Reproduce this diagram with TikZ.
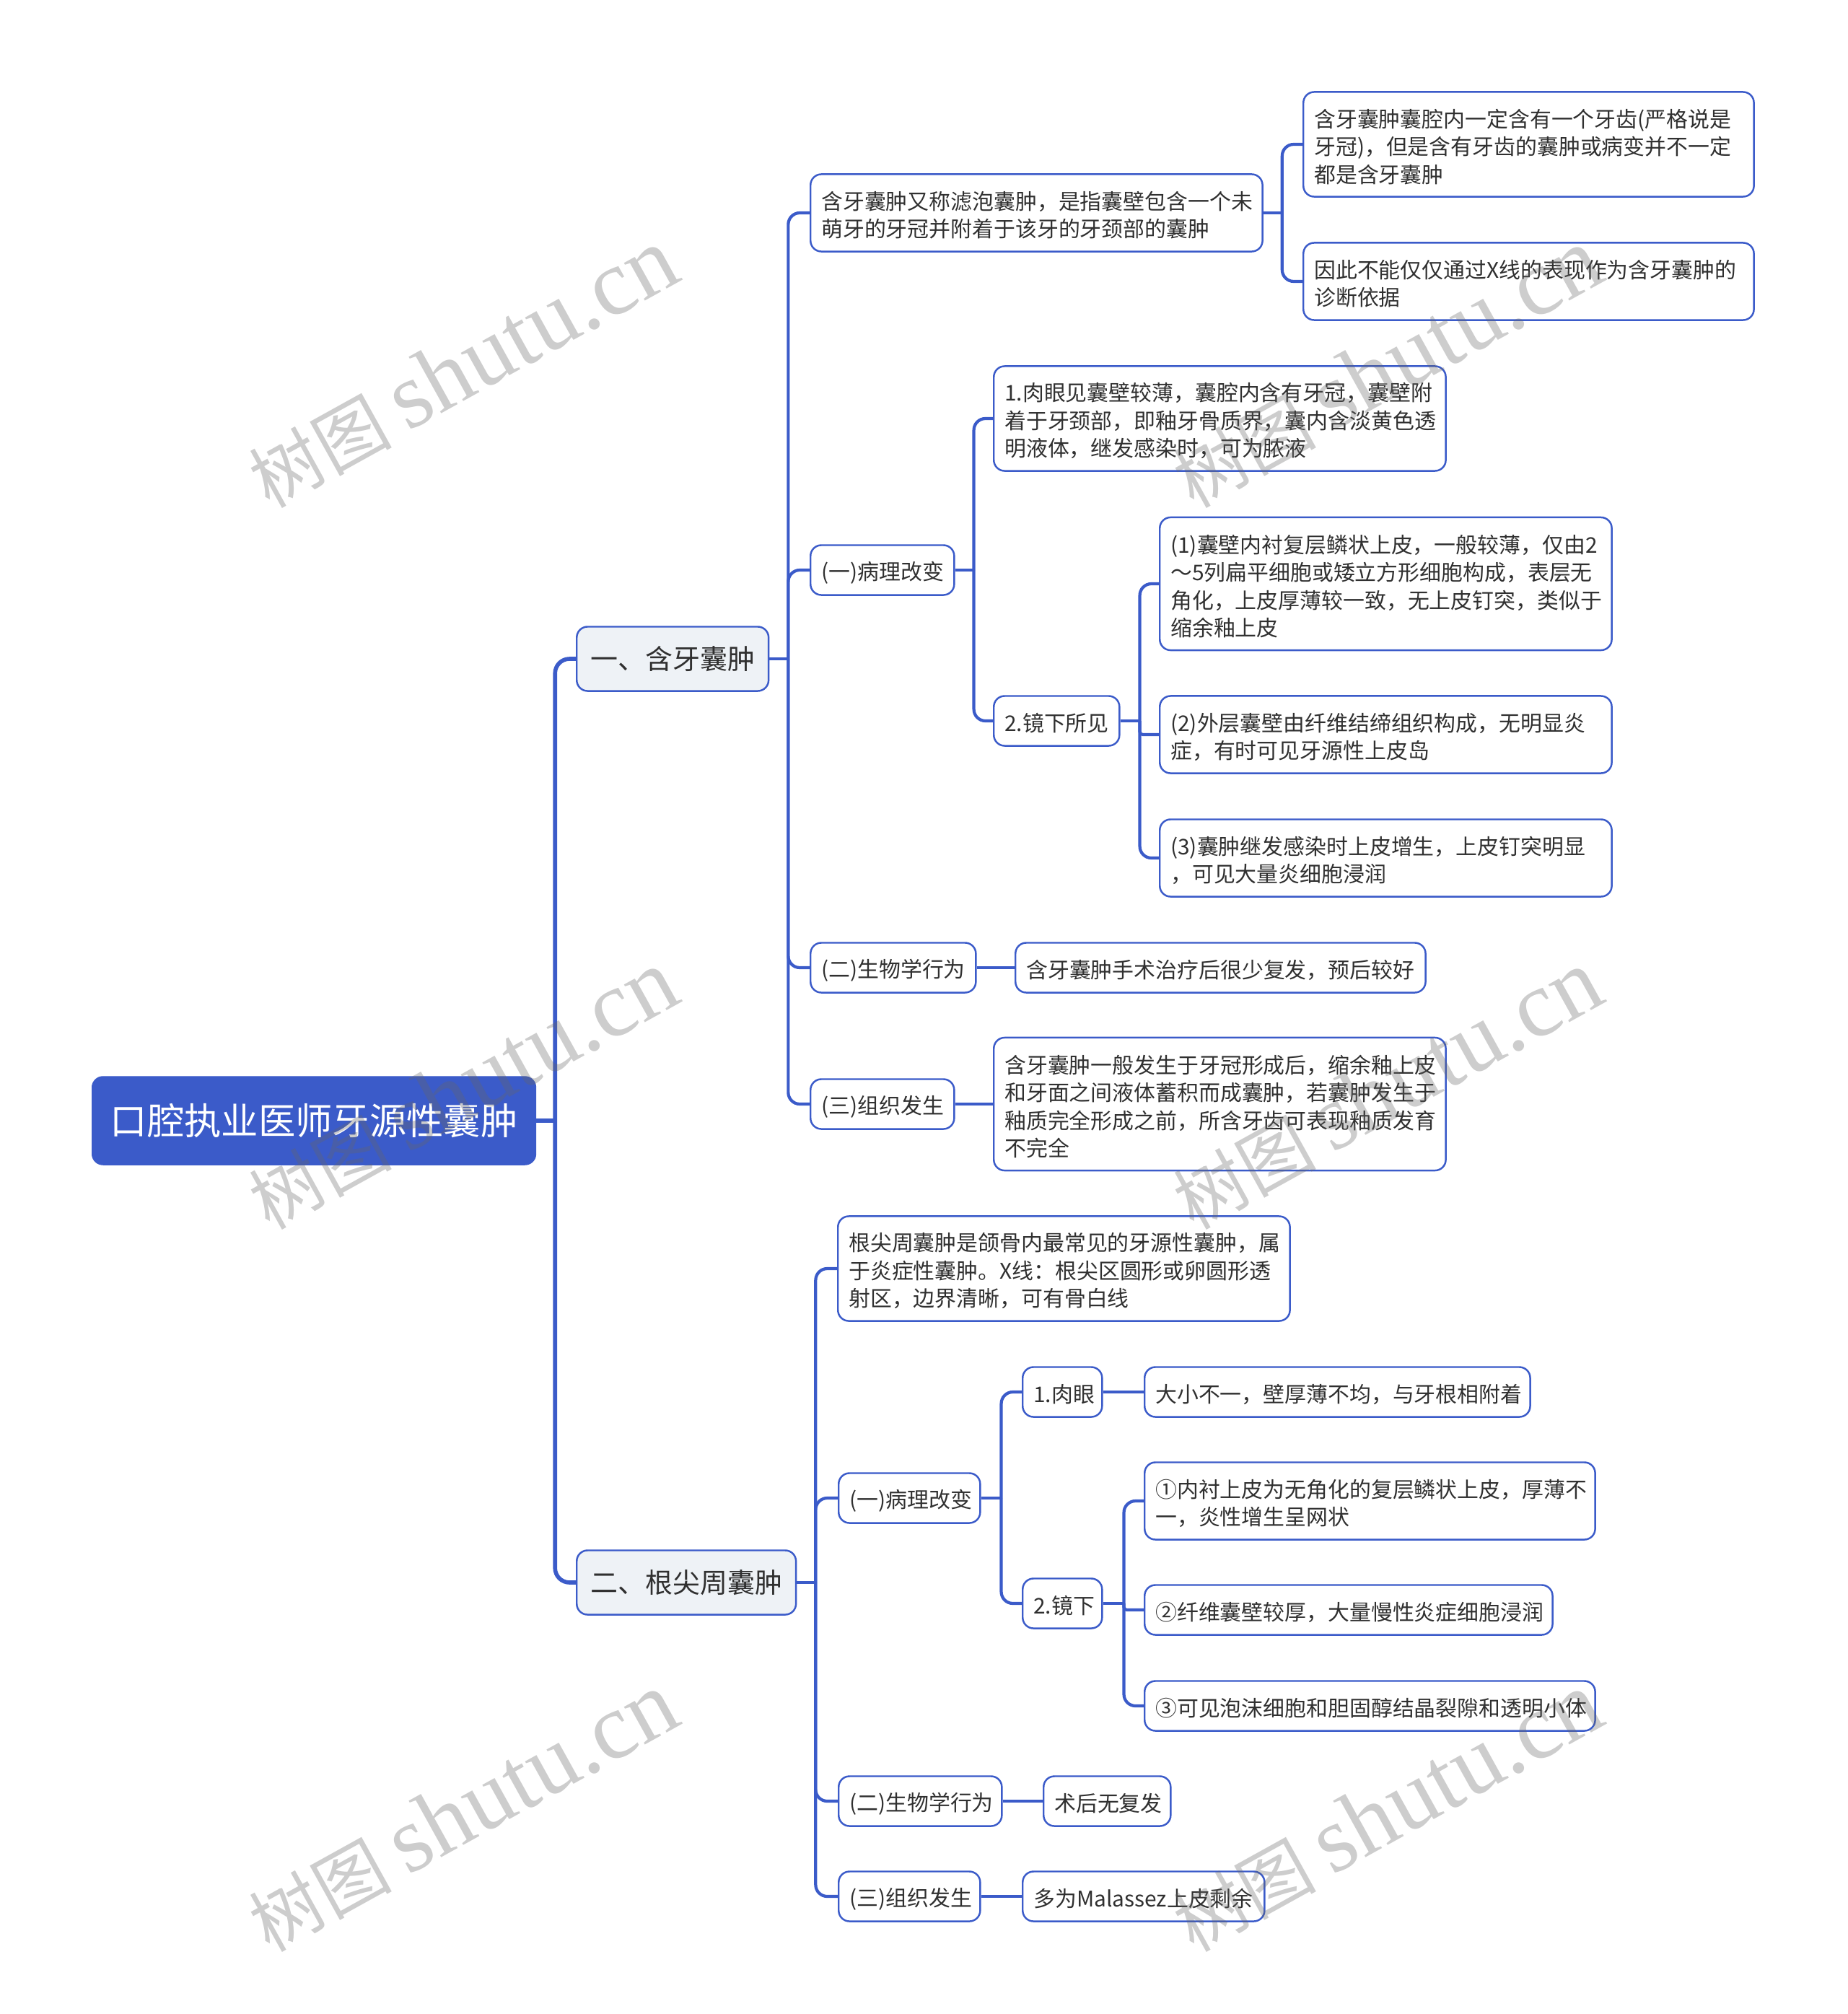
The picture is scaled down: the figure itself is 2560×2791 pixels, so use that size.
\documentclass[tikz,border=0pt]{standalone}
\usepackage{fontspec}
\usepackage{tikz}
\setmainfont{Noto Sans CJK SC}
\newfontfamily\serifmark{Liberation Serif}
\definecolor{mapblue}{HTML}{3B5BC9}
\definecolor{mappale}{HTML}{EEF2F6}
\definecolor{mapink}{HTML}{303030}
\newcommand{\dou}{\char"FF0C\relax}
\newcommand{\mao}{\char"FF1A\relax}
\newcommand{\bo}{\char"FF5E\relax}

\begin{document}
\begin{tikzpicture}[x=.01cm, y=-.01cm,
  plainbox/.style={draw=mapblue, line width=.7pt, rounded corners=.15cm, anchor=west, align=left, inner xsep=.15cm, inner ysep=0pt, text=mapink},
  box/.style={plainbox, font=\fontsize{8.5}{10.95}\selectfont, execute at begin node={\rule{0pt}{.32cm}}},
  lineone/.style={minimum height=.69cm},
  linetwo/.style={minimum height=1.07cm},
  linethree/.style={minimum height=1.45cm},
  linefour/.style={minimum height=1.84cm},
  headbox/.style={plainbox, fill=mappale, inner xsep=.19cm, minimum height=.89cm, font=\fontsize{10.8}{13}\selectfont},
  rootbox/.style={draw=mapblue, fill=mapblue, rounded corners=.15cm, anchor=west, inner xsep=.25cm, inner ysep=0pt, minimum height=1.22cm, text=white, font=\fontsize{14.6}{18}\selectfont},
  link/.style={draw=mapblue, line width=1.2pt, rounded corners=.16cm},
  mainlink/.style={draw=mapblue, line width=1.6pt, rounded corners=.2cm},
  markbox/.style={text=black!60, opacity=.33, rotate=29, inner sep=0pt, font=\fontsize{28}{40}\selectfont}]
  \useasboundingbox (0, 0) rectangle (2560, 2791);
  \node [rootbox] (root) at (127, 1553) {口腔执业医师牙源性囊肿};
  \node [headbox] (a) at (798, 913) {一、含牙囊肿};
  \node [headbox] (b) at (798, 2193) {二、根尖周囊肿};

  \node [box, linetwo, text width=5.96cm] (a0) at (1122, 295) {含牙囊肿又称滤泡囊肿\dou 是指囊壁包含一个未\\萌牙的牙冠并附着于该牙的牙颈部的囊肿};
  \node [box, linethree, text width=5.94cm] (a01) at (1805, 200) {含牙囊肿囊腔内一定含有一个牙齿(严格说是\\牙冠)\dou 但是含有牙齿的囊肿或病变并不一定\\都是含牙囊肿};
  \node [box, linetwo, text width=5.94cm] (a02) at (1805, 390) {因此不能仅仅通过X线的表现作为含牙囊肿的\\诊断依据};
  \node [box, lineone, text width=1.69cm] (a1) at (1122, 790) {(一)病理改变};
  \node [box, linethree, text width=5.96cm] (a11) at (1376, 580) {1.肉眼见囊壁较薄\dou 囊腔内含有牙冠\dou 囊壁附\\着于牙颈部\dou 即釉牙骨质界\dou 囊内含淡黄色透\\明液体\dou 继发感染时\dou 可为脓液};
  \node [box, lineone, text width=1.44cm] (a12) at (1376, 999) {2.镜下所见};
  \node [box, linefour, text width=5.96cm] (a121) at (1606, 809) {(1)囊壁内衬复层鳞状上皮\dou 一般较薄\dou 仅由2\\\bo 5列扁平细胞或矮立方形细胞构成\dou 表层无\\角化\dou 上皮厚薄较一致\dou 无上皮钉突\dou 类似于\\缩余釉上皮};
  \node [box, linetwo, text width=5.96cm] (a122) at (1606, 1018) {(2)外层囊壁由纤维结缔组织构成\dou 无明显炎\\症\dou 有时可见牙源性上皮岛};
  \node [box, linetwo, text width=5.96cm] (a123) at (1606, 1189) {(3)囊肿继发感染时上皮增生\dou 上皮钉突明显\\\dou 可见大量炎细胞浸润};
  \node [box, lineone, text width=1.99cm] (a2) at (1122, 1341) {(二)生物学行为};
  \node [box, lineone, text width=5.38cm] (a21) at (1406, 1341) {含牙囊肿手术治疗后很少复发\dou 预后较好};
  \node [box, lineone, text width=1.69cm] (a3) at (1122, 1530) {(三)组织发生};
  \node [box, linefour, text width=5.96cm] (a31) at (1376, 1530) {含牙囊肿一般发生于牙冠形成后\dou 缩余釉上皮\\和牙面之间液体蓄积而成囊肿\dou 若囊肿发生于\\釉质完全形成之前\dou 所含牙齿可表现釉质发育\\不完全};

  \node [box, linethree, text width=5.96cm] (b0) at (1160, 1758) {根尖周囊肿是颌骨内最常见的牙源性囊肿\dou 属\\于炎症性囊肿。X线\mao 根尖区圆形或卵圆形透\\射区\dou 边界清晰\dou 可有骨白线};
  \node [box, lineone, text width=1.66cm] (b1) at (1161, 2076) {(一)病理改变};
  \node [box, lineone, text width=.8cm] (b11) at (1416, 1929) {1.肉眼};
  \node [box, lineone, text width=5.04cm] (b111) at (1585, 1929) {大小不一\dou 壁厚薄不均\dou 与牙根相附着};
  \node [box, lineone, text width=.8cm] (b12) at (1416, 2222) {2.镜下};
  \node [box, linetwo, text width=5.94cm] (b121) at (1585, 2080) {①内衬上皮为无角化的复层鳞状上皮\dou 厚薄不\\一\dou 炎性增生呈网状};
  \node [box, lineone, text width=5.35cm] (b122) at (1585, 2231) {②纤维囊壁较厚\dou 大量慢性炎症细胞浸润};
  \node [box, lineone, text width=5.94cm] (b123) at (1585, 2364) {③可见泡沫细胞和胆固醇结晶裂隙和透明小体};
  \node [box, lineone, text width=1.96cm] (b2) at (1161, 2496) {(二)生物学行为};
  \node [box, lineone, text width=1.46cm] (b21) at (1445, 2496) {术后无复发};
  \node [box, lineone, text width=1.66cm] (b3) at (1161, 2628) {(三)组织发生};
  \node [box, lineone, text width=3.05cm] (b31) at (1416, 2628) {多为Malassez上皮剩余};

  \draw [mainlink] (root.east) -- ++(26, 0) coordinate (rootjoin);
  \draw [mainlink] (rootjoin) |- (a.west);
  \draw [mainlink] (rootjoin) |- (b.west);
  \draw [link] (a.east) -- ++(26, 0) coordinate (ajoin);
  \draw [link] (ajoin) |- (a0.west);
  \draw [link] (ajoin) |- (a1.west);
  \draw [link] (ajoin) |- (a2.west);
  \draw [link] (ajoin) |- (a3.west);
  \draw [link] (a0.east) -- ++(26, 0) coordinate (a0join);
  \draw [link] (a0join) |- (a01.west);
  \draw [link] (a0join) |- (a02.west);
  \draw [link] (a1.east) -- ++(26, 0) coordinate (a1join);
  \draw [link] (a1join) |- (a11.west);
  \draw [link] (a1join) |- (a12.west);
  \draw [link] (a12.east) -- ++(27, 0) coordinate (a12join);
  \draw [link] (a12join) |- (a121.west);
  \draw [link, rounded corners=.04cm] (a12join) |- (a122.west);
  \draw [link] (a12join) |- (a123.west);
  \draw [link] (a2) -- (a21);
  \draw [link] (a3) -- (a31);
  \draw [link] (b.east) -- ++(26, 0) coordinate (bjoin);
  \draw [link] (bjoin) |- (b0.west);
  \draw [link] (bjoin) |- (b1.west);
  \draw [link] (bjoin) |- (b2.west);
  \draw [link] (bjoin) |- (b3.west);
  \draw [link] (b1.east) -- ++(28, 0) coordinate (b1join);
  \draw [link] (b1join) |- (b11.west);
  \draw [link] (b1join) |- (b12.west);
  \draw [link] (b11) -- (b111);
  \draw [link] (b12.east) -- ++(29, 0) coordinate (b12join);
  \draw [link] (b12join) |- (b121.west);
  \draw [link, rounded corners=.04cm] (b12join) |- (b122.west);
  \draw [link] (b12join) |- (b123.west);
  \draw [link] (b2) -- (b21);
  \draw [link] (b3) -- (b31);

  \node [markbox] (m0) at (641, 510) {树图 {\serifmark\fontsize{37}{40}\selectfont shutu.cn}};
  \node [markbox] (m1) at (1922, 510) {树图 {\serifmark\fontsize{37}{40}\selectfont shutu.cn}};
  \node [markbox] (m2) at (641, 1510) {树图 {\serifmark\fontsize{37}{40}\selectfont shutu.cn}};
  \node [markbox] (m3) at (1922, 1510) {树图 {\serifmark\fontsize{37}{40}\selectfont shutu.cn}};
  \node [markbox] (m4) at (641, 2511) {树图 {\serifmark\fontsize{37}{40}\selectfont shutu.cn}};
  \node [markbox] (m5) at (1922, 2511) {树图 {\serifmark\fontsize{37}{40}\selectfont shutu.cn}};
\end{tikzpicture}
\end{document}
